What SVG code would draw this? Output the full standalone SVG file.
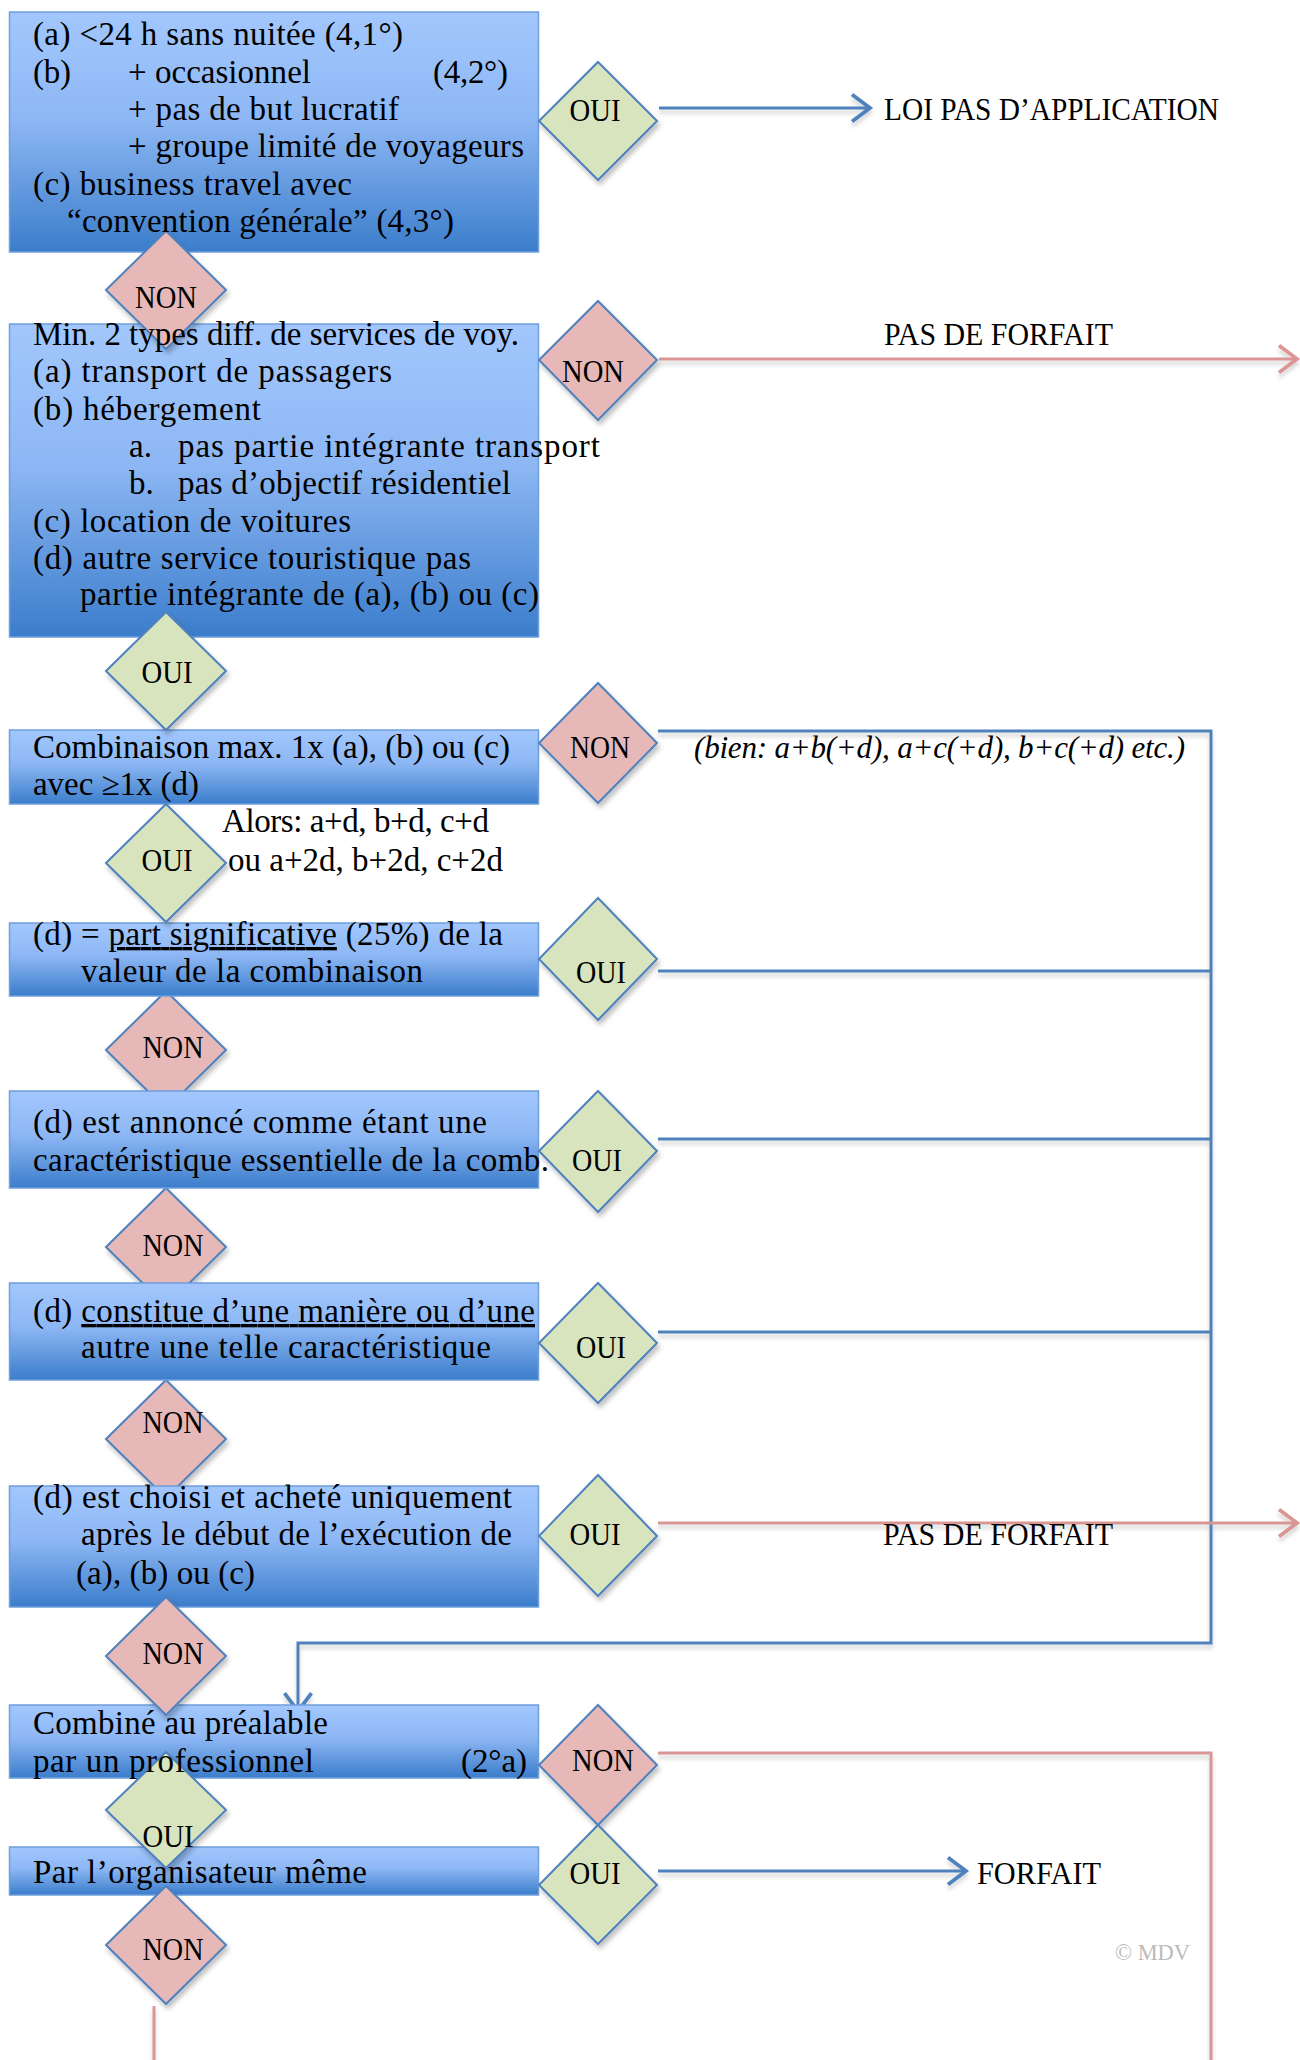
<svg xmlns="http://www.w3.org/2000/svg" width="1300" height="2060" viewBox="0 0 1300 2060">
<defs>
<linearGradient id="boxGrad" x1="0" y1="0" x2="0" y2="1">
<stop offset="0" stop-color="#A2C7FD"/>
<stop offset="0.45" stop-color="#8DB7F4"/>
<stop offset="1" stop-color="#3B7DCB"/>
</linearGradient>
<filter id="shadow" x="-20%" y="-20%" width="150%" height="150%">
<feDropShadow dx="2" dy="4" stdDeviation="2.5" flood-color="#000" flood-opacity="0.25"/>
</filter>
<filter id="lineShadow" x="-5%" y="-5%" width="110%" height="110%">
<feDropShadow dx="0" dy="4" stdDeviation="2" flood-color="#000" flood-opacity="0.18"/>
</filter>
<marker id="arrBlue" markerUnits="userSpaceOnUse" markerWidth="30" markerHeight="30" refX="14" refY="10" orient="auto" viewBox="0 0 16 20">
<path d="M2,1 L14,10 L2,19" fill="none" stroke="#4F81BD" stroke-width="2.5"/>
</marker>
<marker id="arrRed" markerUnits="userSpaceOnUse" markerWidth="30" markerHeight="30" refX="14" refY="10" orient="auto" viewBox="0 0 16 20">
<path d="M2,1 L14,10 L2,19" fill="none" stroke="#D99694" stroke-width="2.5"/>
</marker>
</defs>
<style>
.box{fill:url(#boxGrad);stroke:#6F9FDC;stroke-width:1.5}
.t{font-family:"Liberation Serif","Times New Roman",serif;font-size:33px;fill:#000}
.lab{font-family:"Liberation Serif","Times New Roman",serif;font-size:31px;fill:#000;text-anchor:middle}
.cap{font-family:"Liberation Serif","Times New Roman",serif;font-size:32px;fill:#000}
.it{font-family:"Liberation Serif","Times New Roman",serif;font-size:31px;font-style:italic;fill:#000}
.oui{fill:#D7E4BD;stroke:#4F81BD;stroke-width:2;filter:url(#shadow)}
.non{fill:#E6B9B8;stroke:#4F81BD;stroke-width:2;filter:url(#shadow)}
.bl{fill:none;stroke:#4F81BD;stroke-width:3}
.rd{fill:none;stroke:#D99694;stroke-width:3}
.u{text-decoration:underline}
</style>
<rect width="1300" height="2060" fill="#fff"/>

<g id="connectors" filter="url(#lineShadow)">
<path class="bl" d="M659,108 H870" marker-end="url(#arrBlue)"/>
<path class="rd" d="M659,359 H1297" marker-end="url(#arrRed)"/>
<path class="bl" d="M658,731 H1211 V1643 H298 V1711" marker-end="url(#arrBlue)"/>
<path class="bl" d="M658,971 H1211"/>
<path class="bl" d="M658,1139 H1211"/>
<path class="bl" d="M658,1332 H1211"/>
<path class="rd" d="M658,1523 H1297" marker-end="url(#arrRed)"/>
<path class="rd" d="M658,1753 H1211 V2060"/>
<path class="bl" d="M658,1871 H966" marker-end="url(#arrBlue)"/>
<path class="rd" d="M154,2006 V2060"/>
</g>

<g id="outcome-labels">
<text class="cap" x="884" y="120" textLength="335" lengthAdjust="spacingAndGlyphs">LOI PAS D’APPLICATION</text>
<text class="cap" x="884" y="345" textLength="229" lengthAdjust="spacingAndGlyphs">PAS DE FORFAIT</text>
<text class="it" x="694" y="758" textLength="491" lengthAdjust="spacing">(bien: a+b(+d), a+c(+d), b+c(+d) etc.)</text>
<text class="cap" x="883" y="1545" textLength="230" lengthAdjust="spacingAndGlyphs">PAS DE FORFAIT</text>
<text class="cap" x="977" y="1884" textLength="124" lengthAdjust="spacingAndGlyphs">FORFAIT</text>
<text x="1115" y="1960" font-family="Liberation Serif, serif" font-size="23" fill="#BBBBBB" textLength="75" lengthAdjust="spacingAndGlyphs">© MDV</text>
</g>

<!-- diamonds partly behind boxes -->
<g id="d4-non"><polygon class="non" points="166,991 226,1050 166,1109 106,1050"/><text class="lab" x="173" y="1058" textLength="61" lengthAdjust="spacingAndGlyphs">NON</text></g>
<g id="d5-non"><polygon class="non" points="166,1188 226,1247 166,1306 106,1247"/><text class="lab" x="173" y="1256" textLength="61" lengthAdjust="spacingAndGlyphs">NON</text></g>
<g id="d6-non"><polygon class="non" points="166,1380 226,1439 166,1498 106,1439"/><text class="lab" x="173" y="1433" textLength="61" lengthAdjust="spacingAndGlyphs">NON</text></g>

<!-- box shapes -->
<g id="box-shapes">
<rect id="b1" class="box" x="9.5" y="12" width="529" height="240"/>
<rect id="b2" class="box" x="9.5" y="324" width="529" height="313"/>
<rect id="b3" class="box" x="9.5" y="730" width="529" height="74"/>
<rect id="b4" class="box" x="9.5" y="923" width="529" height="73"/>
<rect id="b5" class="box" x="9.5" y="1091" width="529" height="97"/>
<rect id="b6" class="box" x="9.5" y="1283" width="529" height="97"/>
<rect id="b7" class="box" x="9.5" y="1486" width="529" height="121"/>
<rect id="b8" class="box" x="9.5" y="1705" width="529" height="73"/>
<rect id="b9" class="box" x="9.5" y="1847" width="529" height="48"/>
</g>

<!-- diamonds over boxes -->
<g id="d1-non"><polygon class="non" points="166,231 226,290 166,349 106,290"/><text class="lab" x="166" y="308" textLength="62" lengthAdjust="spacingAndGlyphs">NON</text></g>
<g id="d2-oui"><polygon class="oui" points="166,612 226,671 166,730 106,671"/><text class="lab" x="167" y="683" textLength="51" lengthAdjust="spacingAndGlyphs">OUI</text></g>
<g id="d3-oui"><polygon class="oui" points="166,804 226,863 166,922 106,863"/><text class="lab" x="167" y="871" textLength="51" lengthAdjust="spacingAndGlyphs">OUI</text></g>
<g id="d7-non"><polygon class="non" points="166,1597 226,1656 166,1715 106,1656"/><text class="lab" x="173" y="1664" textLength="61" lengthAdjust="spacingAndGlyphs">NON</text></g>
<g id="d8-oui"><polygon class="oui" points="166,1752 226,1810 166,1868 106,1810"/><text class="lab" x="168" y="1847" textLength="51" lengthAdjust="spacingAndGlyphs">OUI</text></g>
<g id="d9-non"><polygon class="non" points="166,1886 226,1945 166,2004 106,1945"/><text class="lab" x="173" y="1960" textLength="61" lengthAdjust="spacingAndGlyphs">NON</text></g>

<g id="r1-oui"><polygon class="oui" points="598,62 657,121 598,180 539,121"/><text class="lab" x="595" y="121" textLength="51" lengthAdjust="spacingAndGlyphs">OUI</text></g>
<g id="r2-non"><polygon class="non" points="598,301 657,360 598,420 539,360"/><text class="lab" x="593" y="382" textLength="62" lengthAdjust="spacingAndGlyphs">NON</text></g>
<g id="r3-non"><polygon class="non" points="598,683 657,743 598,803 539,743"/><text class="lab" x="600" y="758" textLength="60" lengthAdjust="spacingAndGlyphs">NON</text></g>
<g id="r4-oui"><polygon class="oui" points="598,898 657,959 598,1020 539,959"/><text class="lab" x="601" y="983" textLength="50" lengthAdjust="spacingAndGlyphs">OUI</text></g>
<g id="r5-oui"><polygon class="oui" points="598,1091 657,1151 598,1212 539,1151"/><text class="lab" x="597" y="1171" textLength="50" lengthAdjust="spacingAndGlyphs">OUI</text></g>
<g id="r6-oui"><polygon class="oui" points="598,1283 657,1343 598,1403 539,1343"/><text class="lab" x="601" y="1358" textLength="50" lengthAdjust="spacingAndGlyphs">OUI</text></g>
<g id="r7-oui"><polygon class="oui" points="598,1475 657,1536 598,1596 539,1536"/><text class="lab" x="595" y="1545" textLength="51" lengthAdjust="spacingAndGlyphs">OUI</text></g>
<g id="r8-non"><polygon class="non" points="598,1705 657,1765 598,1825 539,1765"/><text class="lab" x="603" y="1771" textLength="62" lengthAdjust="spacingAndGlyphs">NON</text></g>
<g id="r9-oui"><polygon class="oui" points="598,1825 657,1885 598,1944 539,1885"/><text class="lab" x="595" y="1884" textLength="51" lengthAdjust="spacingAndGlyphs">OUI</text></g>

<!-- box texts -->
<g id="b1-text">
<text class="t" x="33" y="45" textLength="370" lengthAdjust="spacing">(a) &lt;24 h sans nuitée (4,1°)</text>
<text class="t" x="33" y="83" textLength="38" lengthAdjust="spacing">(b)</text>
<text class="t" x="128" y="83" textLength="183" lengthAdjust="spacing">+ occasionnel</text>
<text class="t" x="433" y="83" textLength="75" lengthAdjust="spacing">(4,2°)</text>
<text class="t" x="128" y="120" textLength="271" lengthAdjust="spacing">+ pas de but lucratif</text>
<text class="t" x="128" y="157" textLength="396" lengthAdjust="spacing">+ groupe limité de voyageurs</text>
<text class="t" x="33" y="195" textLength="319" lengthAdjust="spacing">(c) business travel avec</text>
<text class="t" x="67" y="232" textLength="387" lengthAdjust="spacing">“convention générale” (4,3°)</text>
</g>
<g id="b2-text">
<text class="t" x="33" y="345" textLength="486" lengthAdjust="spacing">Min. 2 types diff. de services de voy.</text>
<text class="t" x="33" y="382" textLength="359" lengthAdjust="spacing">(a) transport de passagers</text>
<text class="t" x="33" y="420" textLength="228" lengthAdjust="spacing">(b) hébergement</text>
<text class="t" x="129" y="457">a.</text>
<text class="t" x="178" y="457" textLength="422" lengthAdjust="spacing">pas partie intégrante transport</text>
<text class="t" x="129" y="494">b.</text>
<text class="t" x="178" y="494" textLength="333" lengthAdjust="spacing">pas d’objectif résidentiel</text>
<text class="t" x="33" y="532" textLength="318" lengthAdjust="spacing">(c) location de voitures</text>
<text class="t" x="33" y="569" textLength="438" lengthAdjust="spacing">(d) autre service touristique pas</text>
<text class="t" x="80" y="605" textLength="459" lengthAdjust="spacing">partie intégrante de (a), (b) ou (c)</text>
</g>
<g id="b3-text">
<text class="t" x="33" y="758" textLength="477" lengthAdjust="spacing">Combinaison max. 1x (a), (b) ou (c)</text>
<text class="t" x="33" y="795" textLength="166" lengthAdjust="spacing">avec ≥1x (d)</text>
</g>
<g id="note-alors">
<text class="t" x="222" y="832" textLength="267" lengthAdjust="spacing">Alors: a+d, b+d, c+d</text>
<text class="t" x="228" y="871" textLength="275" lengthAdjust="spacing">ou a+2d, b+2d, c+2d</text>
</g>
<g id="b4-text">
<text class="t" x="33" y="945" textLength="470" lengthAdjust="spacing">(d) = <tspan class="u">part significative</tspan> (25%) de la</text>
<text class="t" x="81" y="982" textLength="342" lengthAdjust="spacing">valeur de la combinaison</text>
</g>
<g id="b5-text">
<text class="t" x="33" y="1133" textLength="454" lengthAdjust="spacing">(d) est annoncé comme étant une</text>
<text class="t" x="33" y="1171" textLength="516" lengthAdjust="spacing">caractéristique essentielle de la comb.</text>
</g>
<g id="b6-text">
<text class="t" x="33" y="1322" textLength="502" lengthAdjust="spacing">(d) <tspan class="u">constitue d’une manière ou d’une</tspan></text>
<text class="t" x="81" y="1358" textLength="410" lengthAdjust="spacing">autre une telle caractéristique</text>
</g>
<g id="b7-text">
<text class="t" x="33" y="1508" textLength="479" lengthAdjust="spacing">(d) est choisi et acheté uniquement</text>
<text class="t" x="81" y="1545" textLength="431" lengthAdjust="spacing">après le début de l’exécution de</text>
<text class="t" x="76" y="1584" textLength="179" lengthAdjust="spacing">(a), (b) ou (c)</text>
</g>
<g id="b8-text">
<text class="t" x="33" y="1734" textLength="295" lengthAdjust="spacing">Combiné au préalable</text>
<text class="t" x="33" y="1772" textLength="281" lengthAdjust="spacing">par un professionnel</text>
<text class="t" x="461" y="1772" textLength="66" lengthAdjust="spacing">(2°a)</text>
</g>
<g id="b9-text">
<text class="t" x="33" y="1883" textLength="334" lengthAdjust="spacing">Par l’organisateur même</text>
</g>
</svg>
